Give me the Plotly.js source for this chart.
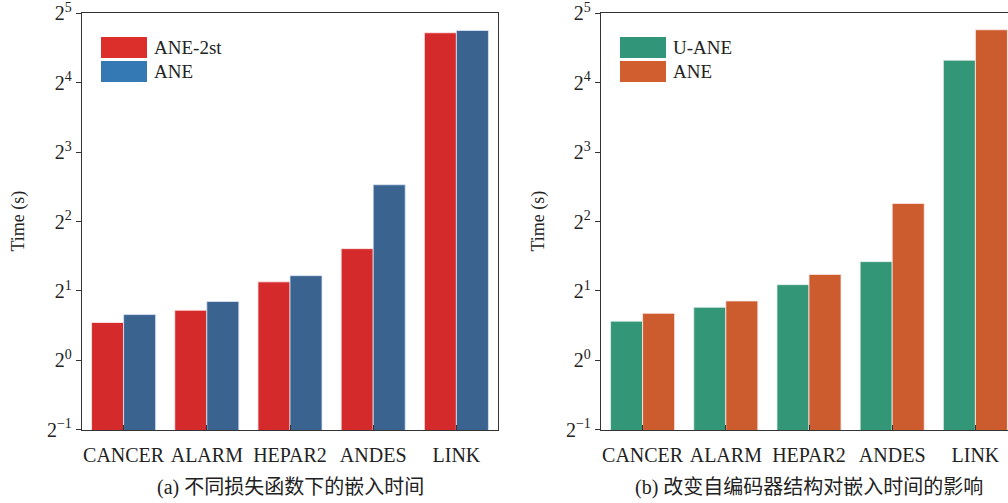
<!DOCTYPE html>
<html>
<head>
<meta charset="utf-8">
<script src="https://cdn.plot.ly/plotly-3.0.1.min.js"></script>
<style>
html,body{margin:0;padding:0;overflow:hidden;background:#fff;}
#chart{width:1030px;height:503px;}
</style>
</head>
<body>
<div id="chart"></div>
<script>
// ---- data ----
const categories = ["CANCER", "ALARM", "HEPAR2", "ANDES", "LINK"];
const seriesA1Name = "ANE-2st";
const seriesA1 = [1.46, 1.65, 2.19, 3.05, 26.3];
const seriesA2Name = "ANE";
const seriesA2 = [1.58, 1.80, 2.33, 5.77, 26.9];
const seriesB1Name = "U-ANE";
const seriesB1 = [1.48, 1.70, 2.13, 2.68, 20.0];
const seriesB2Name = "ANE";
const seriesB2 = [1.60, 1.81, 2.36, 4.79, 27.1];
const yTickVals = [0.5, 1, 2, 4, 8, 16, 32];
const yTickText = ["2<sup>−1</sup>", "2<sup>0</sup>", "2<sup>1</sup>", "2<sup>2</sup>", "2<sup>3</sup>", "2<sup>4</sup>", "2<sup>5</sup>"];
const yTitle = "Time (s)";
const captionA = "(a) 不同损失函数下的嵌入时间";
const captionB = "(b) 改变自编码器结构对嵌入时间的影响";

// ---- layout helpers ----
const W = 1030, H = 503;
const px = x => x / W;
const py = y => 1 - y / H;
const FONT = "Liberation Serif, Times New Roman, Noto Sans CJK SC, serif";
const TXT = "#222";

const colA1 = "#d42a2b", colA2 = "#3a6390";
const legA1 = "#dc2e2b", legA2 = "#3478b4";
const colB1 = "#329677", colB2 = "#cc5c2d";
const legB1 = "#31957a", legB2 = "#d05e2e";
const edge = {color: "rgba(255,235,235,0.8)", width: 1};

const traces = [
  {type: "bar", x: categories, y: seriesA1, name: seriesA1Name, xaxis: "x", yaxis: "y", marker: {color: colA1, line: edge}, showlegend: false},
  {type: "bar", x: categories, y: seriesA2, name: seriesA2Name, xaxis: "x", yaxis: "y", marker: {color: colA2, line: {color: "rgba(220,230,245,0.8)", width: 1}}, showlegend: false},
  {type: "bar", x: categories, y: seriesB1, name: seriesB1Name, xaxis: "x2", yaxis: "y2", marker: {color: colB1, line: {color: "rgba(230,240,235,0.8)", width: 1}}, showlegend: false},
  {type: "bar", x: categories, y: seriesB2, name: seriesB2Name, xaxis: "x2", yaxis: "y2", marker: {color: colB2, line: edge}, showlegend: false}
];

const xBase = {
  type: "category", range: [-0.5, 4.5], showline: true, linecolor: "#333", linewidth: 1.3, mirror: true,
  ticks: "inside", ticklen: 5, tickcolor: "#333", tickwidth: 1.2,
  tickfont: {family: FONT, size: 20, color: TXT}, showgrid: false, zeroline: false,
  ticklabelstandoff: 7, ticklabeloverflow: "allow", fixedrange: true
};
const yBase = {
  type: "log", range: [Math.log10(0.5) - 0.0005, Math.log10(32) + 0.0005], showline: true, linecolor: "#333", linewidth: 1.3, mirror: true,
  ticks: "outside", ticklen: 5, tickcolor: "#333", tickwidth: 1.2,
  tickvals: yTickVals, ticktext: yTickText, ticklabeloverflow: "allow",
  tickfont: {family: FONT, size: 20, color: TXT}, showgrid: false, zeroline: false, fixedrange: true
};

const yDom = [py(430), py(13)];

function legendItems(x0, names, cols) {
  const shapes = [], anns = [];
  names.forEach((n, i) => {
    const top = 37 + i * 24;
    shapes.push({type: "rect", xref: "paper", yref: "paper", x0: px(x0), x1: px(x0 + 46), y0: py(top + 21), y1: py(top), fillcolor: cols[i], line: {width: 0}});
    anns.push({xref: "paper", yref: "paper", x: px(x0 + 51), y: py(top + 10.5), xanchor: "left", yanchor: "middle", text: n, showarrow: false, font: {family: FONT, size: 19, color: TXT}});
  });
  return {shapes, anns};
}
const legA = legendItems(101, [seriesA1Name, seriesA2Name], [legA1, legA2]);
const legB = legendItems(620, [seriesB1Name, seriesB2Name], [legB1, legB2]);

const annotations = [
  {xref: "paper", yref: "paper", x: px(18), y: py(221.5), text: yTitle, textangle: -90, showarrow: false, xanchor: "center", yanchor: "middle", font: {family: FONT, size: 18, color: TXT}},
  {xref: "paper", yref: "paper", x: px(538), y: py(221.5), text: yTitle, textangle: -90, showarrow: false, xanchor: "center", yanchor: "middle", font: {family: FONT, size: 18, color: TXT}},
  {xref: "paper", yref: "paper", x: px(290), y: py(487), text: captionA, showarrow: false, xanchor: "center", yanchor: "middle", font: {family: FONT, size: 20, color: TXT}},
  {xref: "paper", yref: "paper", x: px(809), y: py(487), text: captionB, showarrow: false, xanchor: "center", yanchor: "middle", font: {family: FONT, size: 20, color: TXT}}
].concat(legA.anns, legB.anns);

const layout = {
  width: W, height: H,
  margin: {l: 0, r: 0, t: 0, b: 0},
  paper_bgcolor: "#fff", plot_bgcolor: "#fff",
  barmode: "group", bargap: 0.23, bargroupgap: 0,
  showlegend: false,
  xaxis: Object.assign({}, xBase, {domain: [px(82), px(498)], anchor: "y"}),
  yaxis: Object.assign({}, yBase, {domain: yDom, anchor: "x"}),
  xaxis2: Object.assign({}, xBase, {domain: [px(601), px(1017)], anchor: "y2"}),
  yaxis2: Object.assign({}, yBase, {domain: yDom, anchor: "x2"}),
  shapes: legA.shapes.concat(legB.shapes),
  annotations: annotations,
  font: {family: FONT, color: TXT}
};

Plotly.newPlot("chart", traces, layout, {displayModeBar: false});
</script>
</body>
</html>
